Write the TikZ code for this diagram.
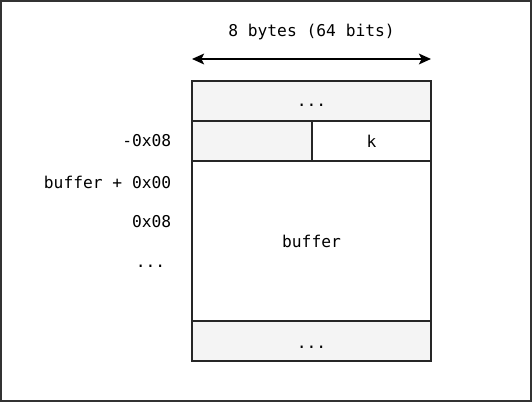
\documentclass[tikz,border=0pt]{standalone}
\usepackage{fontspec}
\setmonofont{DejaVu Sans Mono}
\usetikzlibrary{arrows.meta}
\definecolor{cellgray}{HTML}{F4F4F4}
\begin{document}
\begin{tikzpicture}[x=0.75pt,y=-0.75pt,
  cell/.style={draw=black!85,line width=1.5pt,inner sep=0pt},
  lbl/.style={font=\ttfamily\fontsize{12.2pt}{14pt}\selectfont,inner sep=0pt},
  lft/.style={lbl,anchor=east}]
\useasboundingbox (0,0) rectangle (532,402);
\draw[draw=black!80,line width=1.5pt] (1,1) rectangle (531,401);
\path[cell,fill=cellgray] (192,81) rectangle (431,121);
\node[lbl] (top) at (311.5,105) {...};
\path[cell,fill=cellgray] (192,121) rectangle (312,161);
\path[cell,fill=white] (312,121) rectangle (431,161);
\node[lbl] (k) at (371.5,141) {k};
\path[cell,fill=white] (192,161) rectangle (431,321);
\node[lbl] (buf) at (311.5,241) {buffer};
\path[cell,fill=cellgray] (192,321) rectangle (431,361);
\node[lbl] (bot) at (311.5,347) {...};
\coordinate (al) at (192,59);
\coordinate (ar) at (431,59);
\draw[line width=1.5pt,{Stealth[length=9pt,width=8pt,inset=2pt]}-{Stealth[length=9pt,width=8pt,inset=2pt]}] (al) -- (ar);
\node[lbl] (size) at (311.5,32) {8 bytes (64 bits)};
\node[lft] (m08) at (171.5,141) {-0x08};
\node[lft] (b00) at (171.5,182) {buffer + 0x00};
\node[lft] (p08) at (171.5,222) {0x08};
\node[lft] (dots) at (165.5,266) {...};
\end{tikzpicture}
\end{document}
